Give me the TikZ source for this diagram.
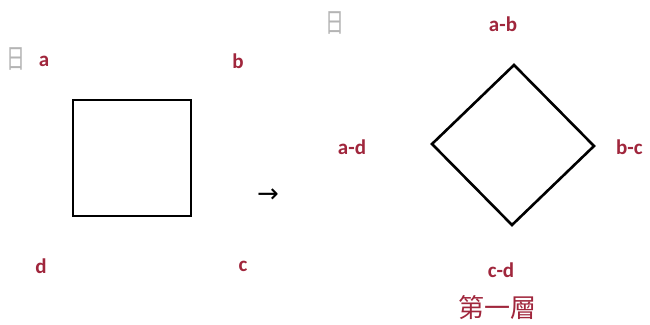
\documentclass[tikz,border=0pt]{standalone}
\usepackage{fontspec}
\setmainfont{Carlito}
\newfontfamily\cjk{Noto Sans CJK TC}
\newfontfamily\symb{DejaVu Sans}
\definecolor{lbl}{HTML}{A0263C}
\definecolor{gry}{HTML}{B4B4B4}
\newcommand{\narrowri}{\scalebox{0.7}[1]{日}}
\begin{document}
\begin{tikzpicture}[x=1pt,y=-1pt,
  lab/.style={font=\bfseries\fontsize{21}{21}\selectfont, text=lbl, inner sep=0pt},
  ri/.style={font=\cjk\fontsize{27}{27}\selectfont, text=gry, inner sep=0pt},
  outline/.style={draw=black, line width=2.6pt, line join=miter}]
\useasboundingbox (0,0) rectangle (650,324);
% left square
\coordinate (sa) at (73,100);
\coordinate (sb) at (191,100);
\coordinate (sc) at (191,216);
\coordinate (sd) at (73,216);
\draw[outline] (sa) -- (sb) -- (sc) -- (sd) -- cycle;
\node[ri] (r1) at (16,59) {\narrowri};
\node[lab] (la) at (44,61) {a};
\node[lab] (lb) at (238,61) {b};
\node[lab] (ld) at (41,266) {d};
\node[lab] (lc) at (243,266) {c};
% arrow
\node[font=\symb\fontsize{26}{26}\selectfont, inner sep=0pt] (arr) at (268,196) {→};
% diamond
\coordinate (dt) at (514,65);
\coordinate (dr) at (594,146);
\coordinate (db) at (512,225);
\coordinate (dl) at (432,144);
\draw[outline] (dt) -- (dr) -- (db) -- (dl) -- cycle;
\node[ri] (r2) at (335,23) {\narrowri};
\node[lab] (lab1) at (503,24) {a-b};
\node[lab] (lad) at (352,147) {a-d};
\node[lab, anchor=west] (lbc) at (616,147) {b-c};
\node[lab] (lcd) at (501,270) {c-d};
\node[font=\cjk\fontsize{26}{26}\selectfont, text=lbl, inner sep=0pt] (title) at (497,308) {第一層};
\end{tikzpicture}
\end{document}
